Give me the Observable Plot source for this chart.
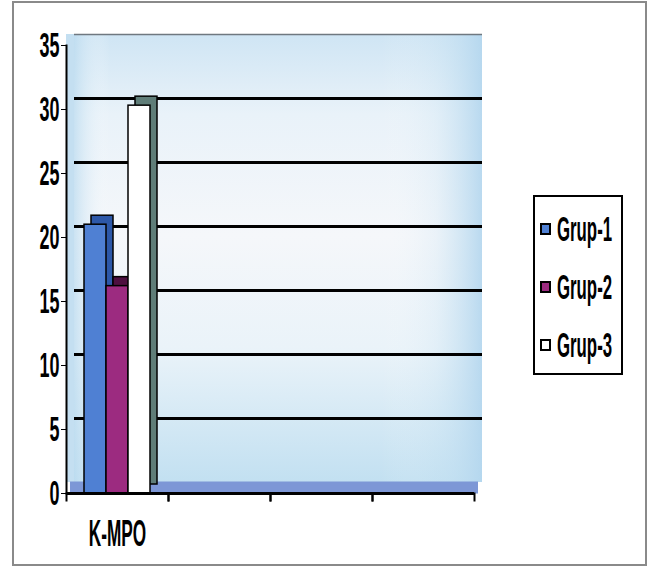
<!DOCTYPE html>
<html>
<head>
<meta charset="utf-8">
<script src="https://cdn.jsdelivr.net/npm/d3@7"></script>
<script src="https://cdn.jsdelivr.net/npm/@observablehq/plot@0.6"></script>
<style>
  body { margin: 0; background: #fff; }
  #wrap { position: relative; width: 649px; height: 568px; overflow: hidden;
          font-family: "Liberation Sans", Arial, sans-serif; font-weight: bold; }
  #frameBorder { position: absolute; left: 12px; top: 1px; width: 635px; height: 565px; box-sizing: border-box;
                 border: 2px solid #8a8a8a; pointer-events: none; }
  #chart { position: absolute; left: 0; top: 0; }
  #chart svg g[aria-label="fx-axis tick label"] { font-size: 21px; }
  #chart svg g[aria-label="y-axis tick label"] { font-size: 23px; }
  #legend { position: absolute; left: 533px; top: 195px; width: 90px; height: 180px; box-sizing: border-box;
            border: 2px solid #000; background: #fff; }
  .item { position: absolute; left: 5px; height: 24px; display: flex; align-items: center; white-space: nowrap; }
  .sw { width: 11px; height: 12px; box-sizing: border-box; border: 2px solid #000; margin-right: 6px; flex: none; }
  .lbl { display: inline-block; font-size: 21px; line-height: 24px; color: #000; transform: scale(0.8, 1.7); transform-origin: left center; }
</style>
</head>
<body>
<div id="wrap">
  <div id="chart"></div>
  <div id="legend"></div>
  <div id="frameBorder"></div>
</div>
<script>
const categories = ["K-MPO", "C2", "C3", "C4"];
const categoryLabels = ["K-MPO", "", "", ""];
const groups = ["Grup-1", "Grup-2", "Grup-3"];
const values = [21, 16.2, 30.3];
const colors = ["#4f80d3", "#9c2b80", "#ffffff"];
const sideColors = ["#2d58a8", "#4d0f3f", "#5f7d78"];
const yTicks = [0, 5, 10, 15, 20, 25, 30, 35];
const gridValues = [5, 10, 15, 20, 25, 30];
const topValue = [35];

const data = groups.map((g, i) => ({
  category: categories[0], group: g, value: values[i], fill: colors[i], side: sideColors[i]
}));
const walls = categories.map(c => ({ category: c, lo: yTicks[0], hi: yTicks[yTicks.length - 1] }));
const firstWall = [walls[0]];
const lastWall = [walls[walls.length - 1]];

const labelOf = new Map(categories.map((c, i) => [c, categoryLabels[i]]));

const chart = Plot.plot({
  width: 649,
  height: 568,
  marginLeft: 64,
  marginRight: 174,
  marginTop: 45,
  marginBottom: 75,
  style: { fontFamily: '"Liberation Sans", Arial, sans-serif', fontWeight: "bold", background: "transparent", color: "#000", overflow: "visible" },
  fx: { domain: categories, padding: 0, axis: "bottom", label: null, tickSize: 0, tickPadding: 32, tickFormat: d => labelOf.get(d) },
  x: { domain: groups, paddingInner: 0, paddingOuter: 0.78, axis: null },
  y: { domain: [0, 35], ticks: yTicks, tickSize: 5, tickPadding: 2, label: null },
  marks: [
    // left wall (first category only)
    Plot.rect(firstWall, { fx: "category", y1: "lo", y2: "hi", fill: "#c4dff1", dy: -11 }),
    // back wall
    Plot.rect(walls, { fx: "category", y1: "lo", y2: "hi", fill: "url(#wallGrad)", dx: 8, dy: -11 }),
    Plot.rect(firstWall, { fx: "category", y1: "lo", y2: "hi", fill: "url(#wallGradL)", dx: 8, dy: -11 }),
    Plot.rect(lastWall, { fx: "category", y1: "lo", y2: "hi", fill: "url(#wallGradR)", dx: 8, dy: -11 }),
    // floor
    Plot.ruleY([0], { stroke: "#7d97d6", strokeWidth: 12, dx: 4, dy: -6 }),
    // top edge of back wall
    Plot.ruleY(topValue, { stroke: "#6f7880", strokeWidth: 1.5, dx: 8, dy: -11 }),
    // gridlines on back wall
    Plot.ruleY(gridValues, { stroke: "#000", strokeWidth: 3, dx: 8, dy: -11 }),
    // bar depth (side + top)
    Plot.barY(data, { fx: "category", x: "group", y: "value", fill: d => d.side, stroke: "#000", strokeWidth: 1.5, dx: 7, dy: -9 }),
    // bar fronts
    Plot.barY(data, { fx: "category", x: "group", y: "value", fill: d => d.fill, stroke: "#000", strokeWidth: 1.5 }),
    // base axis
    Plot.ruleY([0], { stroke: "#000", strokeWidth: 3 }),
    // category boundary ticks
    Plot.frame({ anchor: "left", stroke: "#000", strokeWidth: 2, insetTop: 448, insetBottom: -7 }),
    Plot.frame({ anchor: "right", stroke: "#000", strokeWidth: 2, insetTop: 448, insetBottom: -7 }),
    // front-left edge
    Plot.frame({ facet: "super", anchor: "left", stroke: "#000", strokeWidth: 2 })
  ]
});

document.getElementById("chart").appendChild(chart);

const svgEl = chart.tagName.toLowerCase() === "svg" ? chart : chart.querySelector("svg");
const svg = d3.select(svgEl);
const defs = svg.insert("defs", ":first-child");
function grad(id, horizontal, stops) {
  const g = defs.append("linearGradient").attr("id", id)
    .attr("x1", 0).attr("y1", 0).attr("x2", horizontal ? 1 : 0).attr("y2", horizontal ? 0 : 1);
  stops.forEach(([o, c, a]) => g.append("stop").attr("offset", o).attr("stop-color", c).attr("stop-opacity", a == null ? 1 : a));
}
grad("wallGrad", false, [[0, "#cfe5f4"], [0.18, "#e9f2f9"], [0.45, "#f5f7fa"], [0.7, "#eaf3f9"], [1, "#c2e0f1"]]);
grad("wallGradL", true, [[0, "#b9daef", 0.7], [0.35, "#ffffff", 0]]);
grad("wallGradR", true, [[0, "#ffffff", 0], [0.55, "#c9e3f3", 0.25], [1, "#b3d6ee", 0.9]]);

// tall, narrow lettering as in the reference
function stretch(sel, sx, sy, anchor) {
  svg.selectAll(sel).each(function () {
    const b = this.getBBox();
    const ax = anchor === "end" ? b.x + b.width : b.x + b.width / 2;
    const ay = b.y + b.height / 2;
    const tr = this.getAttribute("transform") || "";
    this.setAttribute("transform", `${tr} translate(${ax},${ay}) scale(${sx},${sy}) translate(${-ax},${-ay})`);
  });
}
stretch('g[aria-label="y-axis tick label"] text', 0.78, 1.55, "end");
stretch('g[aria-label="fx-axis tick label"] text', 0.82, 1.8, "middle");

// legend
const legend = d3.select("#legend");
const itemTops = [20, 78, 136];
groups.forEach((g, i) => {
  const it = legend.append("div").attr("class", "item").style("top", itemTops[i] + "px");
  it.append("div").attr("class", "sw").style("background", colors[i]);
  it.append("span").attr("class", "lbl").text(g);
});
</script>
</body>
</html>
